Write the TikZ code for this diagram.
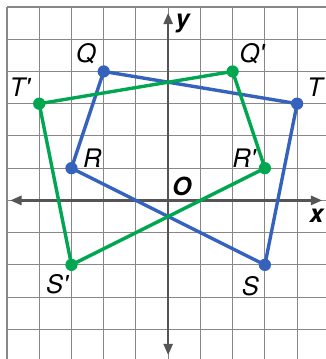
\documentclass[tikz,border=0pt]{standalone}
\usepackage{fontspec}
\setmainfont{TeX Gyre Heros}
\usetikzlibrary{arrows.meta}

\definecolor{polyblue}{RGB}{52,98,188}
\definecolor{polygreen}{RGB}{0,166,80}
\definecolor{axisgray}{RGB}{85,85,85}
\definecolor{gridgray}{RGB}{135,135,135}

\newcommand{\dotr}{0.19}
\newcommand{\prm}{\textquotesingle}

\begin{document}
\begin{tikzpicture}[
    gridline/.style={gridgray, line width=0.9pt},
    axisline/.style={axisgray, line width=2.2pt, {Triangle[length=10pt,width=8pt]}-{Triangle[length=10pt,width=8pt]}},
    edgeblue/.style={polyblue, line width=3pt, line join=round},
    edgegreen/.style={polygreen, line width=3pt, line join=round},
    lbl/.style={font=\fontsize{22.5}{24}\selectfont\itshape, inner sep=0pt},
    axlbl/.style={font=\fontsize{22}{24}\selectfont\bfseries\itshape, inner sep=0pt}]

\useasboundingbox (-5.217,-4.92) rectangle (4.89,6.217);

% draw grid
\begin{scope}
\clip (-5.217,-4.92) rectangle (4.89,6.217);
\draw[gridline] (-5,-6) grid (6,6);
\end{scope}

% draw axes
\coordinate (xl) at (-4.9,0);
\coordinate (xr) at (4.78,0);
\coordinate (yb) at (0,-4.8);
\coordinate (yt) at (0,5.82);
\draw[axisline] (xl) -- (xr);
\draw[axisline] (yb) -- (yt);
\node[axlbl] (xlab) at (4.6,-0.47) {x};
\node[axlbl] (ylab) at (0.45,5.5) {y};
\node[axlbl] (olab) at (0.42,0.42) {O};

% vertices
\coordinate (Q) at (-2,4);
\coordinate (T) at (4,3);
\coordinate (R) at (-3,1);
\coordinate (S) at (3,-2);
\coordinate (Qp) at (2,4);
\coordinate (Tp) at (-4,3);
\coordinate (Rp) at (3,1);
\coordinate (Sp) at (-3,-2);

% draw quadrilaterals
\draw[edgeblue] (Q) -- (T) -- (S) -- (R) -- cycle;
\draw[edgegreen] (Qp) -- (Tp) -- (Sp) -- (Rp) -- cycle;

% draw points
\foreach \p in {Q,T,R,S}
  \fill[polyblue] (\p) circle (\dotr);
\foreach \p in {Qp,Tp,Rp,Sp}
  \fill[polygreen] (\p) circle (\dotr);

% labels
\node[lbl] (qlab) at (-2.55,4.55) {Q};
\node[lbl] (qplab) at (2.6,4.55) {Q\prm};
\node[lbl] (tlab) at (4.55,3.5) {T};
\node[lbl] (tplab) at (-4.6,3.5) {T\prm};
\node[lbl] (rlab) at (-2.35,1.3) {R};
\node[lbl] (rplab) at (2.35,1.3) {R\prm};
\node[lbl] (slab) at (2.55,-2.65) {S};
\node[lbl] (splab) at (-3.45,-2.6) {S\prm};

\end{tikzpicture}
\end{document}
